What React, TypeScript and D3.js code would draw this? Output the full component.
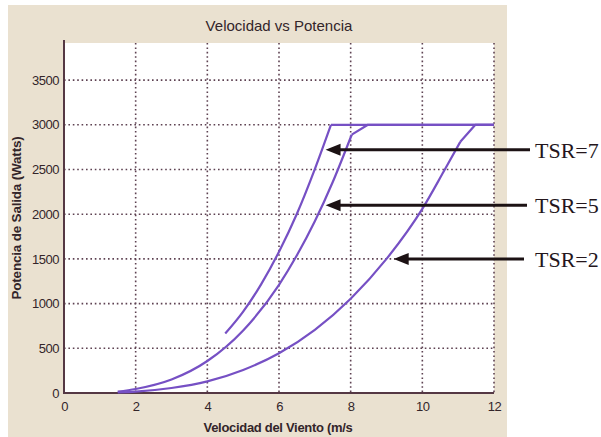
import React, { useEffect, useRef } from 'react';
import * as d3 from 'd3';

// wind speed (m/s) and output power (W)
const tsr7Speed = [4.5, 5, 5.5, 6, 6.5, 7, 7.45, 12];
const tsr7Power = [665, 910, 1215, 1580, 2005, 2505, 3000, 3000];

const tsr5Speed = [1.5, 2, 3, 4, 5, 6, 6.5, 7, 7.5, 8.03, 8.48, 12];
const tsr5Power = [15, 45, 151, 358, 700, 1210, 1540, 1920, 2360, 2890, 3000, 3000];

const tsr2Speed = [1.5, 2, 3, 4, 5, 6, 7, 8, 9, 10, 10.6, 11.06, 11.48, 12];
const tsr2Power = [7, 16, 56, 130, 258, 445, 707, 1055, 1500, 2060, 2480, 2810, 3000, 3000];

// index where the smooth cubic part ends (kink), the rest is straight
const smoothEnd = [6, 9, 11];

const xTicks = [0, 2, 4, 6, 8, 10, 12];
const yTicks = [0, 500, 1000, 1500, 2000, 2500, 3000, 3500];

// labels with the power level the arrow sits at and the speed of its tip
const labels = ['TSR=7', 'TSR=5', 'TSR=2'];
const labelPower = [2720, 2100, 1500];
const labelTipSpeed = [7.3, 7.3, 9.2];

const App = () => {
  const svgRef = useRef<SVGSVGElement>(null);

  useEffect(() => {
    const svg = d3.select(svgRef.current);
    svg.selectAll('*').remove();

    const left = 64, right = 494, top = 43, bottom = 393;
    const x = d3.scaleLinear().domain([0, 12]).range([left, right]);
    const y = d3.scaleLinear().domain([0, 3915]).range([bottom, top]);

    // beige figure panel
    svg.append('rect').attr('x', 8).attr('y', 5).attr('width', 499).attr('height', 432)
      .attr('fill', '#eae1d0');
    svg.append('rect').attr('x', left).attr('y', top).attr('width', right - left).attr('height', bottom - top)
      .attr('fill', '#ffffff');

    const gridColor = '#5e4252';
    svg.append('g').selectAll('line').data(xTicks.slice(1)).join('line')
      .attr('x1', d => x(d)).attr('x2', d => x(d)).attr('y1', top).attr('y2', bottom)
      .attr('stroke', gridColor).attr('stroke-width', 1.6).attr('stroke-dasharray', '1.6,2.8');
    svg.append('g').selectAll('line').data(yTicks.slice(1)).join('line')
      .attr('x1', left).attr('x2', right).attr('y1', d => y(d)).attr('y2', d => y(d))
      .attr('stroke', gridColor).attr('stroke-width', 1.6).attr('stroke-dasharray', '1.6,2.8');

    const xAxis = d3.axisBottom(x).tickValues(xTicks).tickSize(0).tickPadding(9).tickFormat(d3.format('d'));
    const yAxis = d3.axisLeft(y).tickValues(yTicks).tickSize(0).tickPadding(5).tickFormat(d3.format('d'));
    const gx = svg.append('g').attr('transform', `translate(0,${bottom})`).call(xAxis);
    const gy = svg.append('g').attr('transform', `translate(${left},0)`).call(yAxis);
    [gx, gy].forEach(g => {
      g.select('.domain').remove();
      g.selectAll('text').attr('fill', '#33252a').style('font-family', 'Liberation Sans, Arial, sans-serif')
        .style('font-size', '13px').style('letter-spacing', '-0.5px');
    });
    svg.append('line').attr('x1', left).attr('x2', left).attr('y1', top - 3).attr('y2', bottom + 1)
      .attr('stroke', '#553844').attr('stroke-width', 2);
    svg.append('line').attr('x1', left - 1).attr('x2', right).attr('y1', bottom).attr('y2', bottom)
      .attr('stroke', '#553844').attr('stroke-width', 2);

    const smooth = d3.line<[number, number]>().x(d => x(d[0])).y(d => y(d[1])).curve(d3.curveMonotoneX);
    const straight = d3.line<[number, number]>().x(d => x(d[0])).y(d => y(d[1]));
    const series = [
      d3.zip(tsr7Speed, tsr7Power),
      d3.zip(tsr5Speed, tsr5Power),
      d3.zip(tsr2Speed, tsr2Power),
    ] as [number, number][][];
    const curves = svg.append('g').attr('fill', 'none').attr('stroke', '#7650c4')
      .attr('stroke-width', 2.2).attr('stroke-linejoin', 'round');
    series.forEach((s, i) => {
      curves.append('path').attr('d', smooth(s.slice(0, smoothEnd[i] + 1)));
      curves.append('path').attr('d', straight(s.slice(smoothEnd[i])));
    });

    const txt = svg.append('g').style('font-family', 'Liberation Sans, Arial, sans-serif').attr('fill', '#33252a');
    txt.append('text').attr('x', 279).attr('y', 31).attr('text-anchor', 'middle')
      .style('font-size', '15px').text('Velocidad vs Potencia');
    txt.append('text').attr('x', 278).attr('y', 432).attr('text-anchor', 'middle')
      .style('font-size', '13px').style('font-weight', 'bold').style('letter-spacing', '-0.3px')
      .text('Velocidad del Viento (m/s');
    txt.append('text').attr('transform', 'translate(21,218) rotate(-90)').attr('text-anchor', 'middle')
      .style('font-size', '13.5px').style('font-weight', 'bold').style('letter-spacing', '-0.2px')
      .text('Potencia de Salida (Watts)');

    // arrows
    const arrows = svg.append('g');
    labels.forEach((lab, i) => {
      const yy = y(labelPower[i]);
      const tip = x(labelTipSpeed[i]);
      arrows.append('line').attr('x1', tip + 10).attr('x2', 530 - i * 3).attr('y1', yy).attr('y2', yy)
        .attr('stroke', '#1c1214').attr('stroke-width', 3);
      arrows.append('path').attr('d', `M${tip},${yy}L${tip + 15},${yy - 6}L${tip + 15},${yy + 6}Z`)
        .attr('fill', '#1c1214');
      arrows.append('text').attr('x', 535).attr('y', yy + 8)
        .style('font-family', 'Liberation Serif, Times New Roman, serif').style('font-size', '22px')
        .attr('fill', '#24161c').text(lab);
    });
  }, []);

  return (
    <svg ref={svgRef} width={601} height={437}
      style={{ position: 'absolute', left: 0, top: 0, background: '#ffffff' }} />
  );
};

export default App;
